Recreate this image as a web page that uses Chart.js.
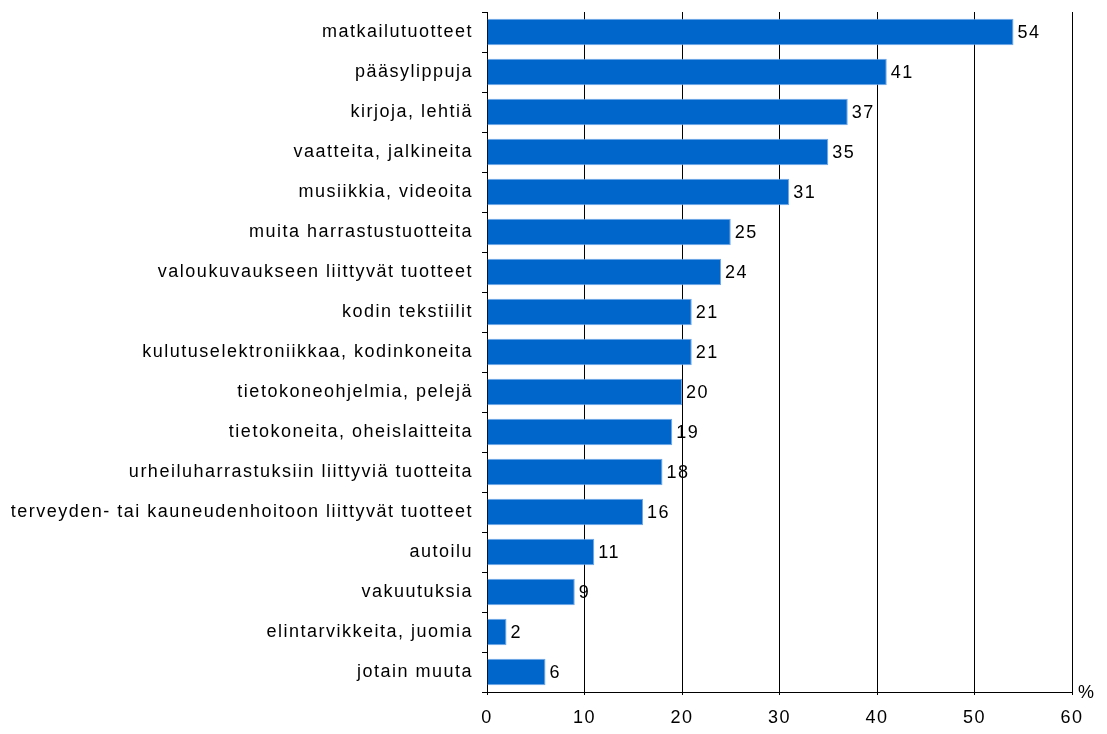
<!DOCTYPE html>
<html>
<head>
<meta charset="utf-8">
<script src="https://cdn.jsdelivr.net/npm/chart.js@4.4.1/dist/chart.umd.min.js"></script>
<style>
  html, body { margin: 0; padding: 0; background: #fff; }
  #wrap { width: 1107px; height: 734px; }
</style>
</head>
<body>
<div id="wrap"><canvas id="bar-chart" width="1107" height="734"></canvas></div>
<script>
let labels = [
  "matkailutuotteet",
  "pääsylippuja",
  "kirjoja, lehtiä",
  "vaatteita, jalkineita",
  "musiikkia, videoita",
  "muita harrastustuotteita",
  "valoukuvaukseen liittyvät tuotteet",
  "kodin tekstiilit",
  "kulutuselektroniikkaa, kodinkoneita",
  "tietokoneohjelmia, pelejä",
  "tietokoneita, oheislaitteita",
  "urheiluharrastuksiin liittyviä tuotteita",
  "terveyden- tai kauneudenhoitoon liittyvät tuotteet",
  "autoilu",
  "vakuutuksia",
  "elintarvikkeita, juomia",
  "jotain muuta"
];
let scores = [54, 41, 37, 35, 31, 25, 24, 21, 21, 20, 19, 18, 16, 11, 9, 2, 6];
let xTicks = [0, 10, 20, 30, 40, 50, 60];

const FONT = "Liberation Sans, Arial, sans-serif";
const SPACING = "1.5px";

// value labels next to the bars and the "%" unit
const valueLabels = {
  id: "valueLabels",
  beforeDraw(chart) {
    chart.ctx.letterSpacing = SPACING;
  },
  afterDatasetsDraw(chart) {
    let ctx = chart.ctx;
    let meta = chart.getDatasetMeta(0);
    ctx.save();
    ctx.letterSpacing = SPACING;
    ctx.fillStyle = "#000";
    ctx.font = "18px " + FONT;
    ctx.textAlign = "left";
    ctx.textBaseline = "middle";
    meta.data.forEach((bar, i) => {
      ctx.fillText(String(scores[i]), bar.x + 4, bar.y + 1);
    });
    let area = chart.chartArea;
    ctx.fillText("%", area.right + 6, area.bottom + 1);
    ctx.restore();
  }
};

let ctx = document.getElementById("bar-chart").getContext("2d");
let barChart = new Chart(ctx, {
  type: "bar",
  data: {
    labels: labels,
    datasets: [
      {
        data: scores,
        backgroundColor: "#0066cc",
        borderColor: "#6fa8e8",
        borderWidth: 1,
        borderSkipped: "start",
        barPercentage: 0.66,
        categoryPercentage: 1.0
      }
    ]
  },
  options: {
    indexAxis: "y",
    responsive: false,
    animation: false,
    layout: { padding: { top: 12, right: 35, bottom: 0, left: 0 } },
    plugins: {
      legend: { display: false },
      tooltip: { enabled: false }
    },
    scales: {
      x: {
        min: 0,
        max: 60,
        afterBuildTicks: (scale) => {
          scale.ticks = xTicks.map((v) => ({ value: v }));
        },
        grid: {
          color: "#000",
          lineWidth: 1,
          drawTicks: true,
          tickLength: 3
        },
        border: { display: true, color: "#000", width: 1 },
        ticks: {
          color: "#000",
          padding: 12,
          font: { family: FONT, size: 18 }
        },
        afterFit: (scale) => {
          scale.height = 42;
          scale.paddingLeft = 0;
          scale.paddingRight = 0;
        }
      },
      y: {
        grid: {
          drawOnChartArea: false,
          drawTicks: true,
          tickLength: 5,
          color: "#000"
        },
        border: { display: true, color: "#000", width: 1 },
        ticks: {
          color: "#000",
          padding: 9,
          autoSkip: false,
          font: { family: FONT, size: 18 }
        },
        afterFit: (scale) => {
          scale.width = 487;
          scale.paddingTop = 0;
          scale.paddingBottom = 0;
        }
      }
    }
  },
  plugins: [valueLabels]
});
</script>
</body>
</html>
